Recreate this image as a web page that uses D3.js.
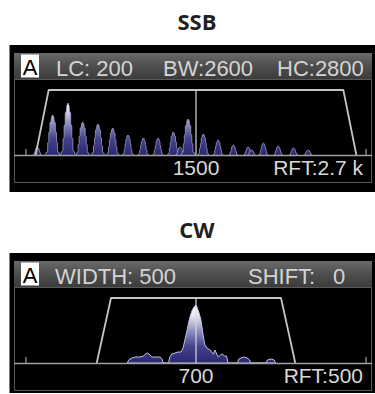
<!DOCTYPE html>
<html><head><meta charset="utf-8">
<script src="https://cdn.jsdelivr.net/npm/d3@7/dist/d3.min.js"></script>
<style>html,body{margin:0;padding:0;background:#fff;overflow:hidden}svg{display:block}</style>
</head><body>
<script>
// ---------- data ----------
const titles = ["SSB", "CW"];
const ssbHeader = ["LC: 200", "BW:2600", "HC:2800"];
const cwHeader = ["WIDTH: 500", "SHIFT:", "0"];
const ssbDomain = [0, 3000];
const cwDomain = [200, 1200];
const ssbFilter = [200, 2800];
const cwFilter = [450, 950];
const ssbSkirt = 115;
const cwSkirt = 42;
const ssbCenter = 1500;
const cwCenter = 700;
const ssbRft = "RFT:2.7 k";
const cwRft = "RFT:500";
// SSB voice harmonics: frequency (Hz) and level
const ssbPeakFreq  = [100, 235, 370, 500, 635, 765, 900, 1035, 1165, 1300, 1360, 1430, 1565, 1695, 1830, 1960, 1990, 2095, 2225, 2360, 2490];
const ssbPeakLevel = [8,   40,  52,  33,  31,  27,  20,  17,   17,   23,   8,    36,   21,   15,   10,   8,    5,    12,   9,    7,    5];
// CW spectrum samples: frequency (Hz) and level
const cwFreq  = [498,502,512,521,535,545,552,558,565,571,582,594,600,604,
                 619,623,629,638,647,656,662,668,674,678,683,688,694,700,704,709,714,718,721,726,732,741,748,751,756,762,766,772,777,784,790,794,
                 822,826,832,841,850,858,861,
                 906,910,921,930,934];
const cwLevel = [0,3,5,6,6,7,9,10,8,6,6,6,4,0,
                 0,6,9,10,11,11,15,24,33,40,47,52,56,58,55,50,44,35,28,18,15,13,10,9,13,8,6,8,9,7,7,0,
                 0,4,5,6,5,3,0,
                 0,3,4,3,0];

// ---------- layout ----------
const W = 375, H = 394;
const svg = d3.select("body").append("svg").attr("width", W).attr("height", H);
const defs = svg.append("defs");
const hg = defs.append("linearGradient").attr("id", "hdr").attr("x1", 0).attr("y1", 0).attr("x2", 0).attr("y2", 1);
hg.append("stop").attr("offset", 0).attr("stop-color", "#6a6a6a");
hg.append("stop").attr("offset", 0.5).attr("stop-color", "#4e4e4e");
hg.append("stop").attr("offset", 1).attr("stop-color", "#3c3c3c");
const sg = defs.append("linearGradient").attr("id", "spec").attr("gradientUnits", "userSpaceOnUse")
  .attr("x1", 0).attr("y1", 155).attr("x2", 0).attr("y2", 100);
[[0, "#2a2870"], [0.3, "#45438e"], [0.6, "#9494c4"], [0.85, "#e6e6f2"], [1, "#ffffff"]]
  .forEach(([o, c]) => sg.append("stop").attr("offset", o).attr("stop-color", c));

const fontUI = "'Liberation Sans', Arial, sans-serif";
const panelLeft = 14, panelRight = 372, headerTop = 53, headerBot = 79, base = 155, labelBot = 182;

const panels = [
  {title: titles[0], header: ssbHeader, hx: [56, 163, 277], domain: ssbDomain, filter: ssbFilter, skirt: ssbSkirt,
   center: ssbCenter, rft: ssbRft, type: "peaks", outerH: 147},
  {title: titles[1], header: cwHeader, hx: [55, 248, 333], domain: cwDomain, filter: cwFilter, skirt: cwSkirt,
   center: cwCenter, rft: cwRft, type: "area", outerH: 140}
];

// peak glyph profile (half-width px, fraction of height)
const glyph = [[-6.5,0],[-6,0.06],[-4.5,0.08],[-4.5,0.3],[-3.5,0.34],[-3.5,0.55],[-2.5,0.6],[-2.5,0.8],[-1.5,0.84],[-1,0.95],[0,1],
               [1,0.95],[1.5,0.84],[2.5,0.8],[2.5,0.6],[3.5,0.55],[3.5,0.34],[4.5,0.3],[4.5,0.08],[6,0.06],[6.5,0]];

panels.forEach((p, i) => {
  const g = svg.append("g").attr("transform", `translate(0,${i * 208})`);
  g.append("text").attr("x", 197).attr("y", 30).attr("text-anchor", "middle")
    .attr("font-family", "'Open Sans', sans-serif").attr("font-weight", 700).attr("font-size", 22)
    .attr("fill", "#231f20").text(p.title);

  g.append("rect").attr("x", 9.5).attr("y", 45).attr("width", W - 9.5).attr("height", p.outerH).attr("fill", "#000");
  g.append("rect").attr("x", panelLeft).attr("y", headerTop).attr("width", panelRight - panelLeft)
    .attr("height", headerBot - headerTop).attr("fill", "url(#hdr)");
  g.append("rect").attr("x", panelLeft + 0.5).attr("y", headerBot + 0.5).attr("width", panelRight - panelLeft - 1)
    .attr("height", labelBot - headerBot).attr("fill", "none").attr("stroke", "#5a5a5a").attr("stroke-width", 1);

  // "A" badge
  g.append("rect").attr("x", 21).attr("y", 54.5).attr("width", 18).attr("height", 23).attr("fill", "#fff");
  g.append("text").attr("x", 30).attr("y", 75).attr("text-anchor", "middle").attr("font-family", fontUI)
    .attr("font-size", 22).attr("fill", "#000").text("A");
  p.header.forEach((t, k) => g.append("text").attr("x", p.hx[k]).attr("y", 76).attr("font-family", fontUI)
    .attr("font-size", 22).attr("fill", "#d4d4d4").text(t));

  const x = d3.scaleLinear().domain(p.domain).range([26, 366]);
  const y = d3.scaleLinear().domain([0, 60]).range([base, base - 60]);

  // spectrum
  if (p.type === "peaks") {
    const peaks = ssbPeakFreq.map((f, k) => ({f, v: ssbPeakLevel[k]}));
    g.selectAll("path.pk").data(peaks).enter().append("path").attr("class", "pk")
      .attr("d", d => {
        const hpx = y(0) - y(d.v);
        const ws = Math.max(0.6, Math.min(1.1, 0.55 + d.v / 70));
        return d3.line()(glyph.map(([dx, fr]) => [x(d.f) + dx * ws, base - fr * hpx]));
      })
      .attr("fill", "url(#spec)").attr("stroke", "#aaaacc").attr("stroke-width", 0.7).attr("stroke-linejoin", "miter");
  } else {
    const pts = cwFreq.map((f, k) => ({f, v: cwLevel[k]}));
    g.append("path").datum(pts)
      .attr("d", d3.area().x(d => x(d.f)).y0(base).y1(d => y(d.v)))
      .attr("fill", "url(#spec)").attr("stroke", "#c0c0dc").attr("stroke-width", 1);
  }

  // filter passband trapezoid
  const trap = [[p.filter[0] - p.skirt, 0], [p.filter[0], 1], [p.filter[1], 1], [p.filter[1] + p.skirt, 0]];
  g.append("path").attr("d", d3.line()(trap.map(([f, u]) => [x(f), u ? 90 : base])))
    .attr("fill", "none").attr("stroke", "#c4c4c4").attr("stroke-width", 1.8).attr("stroke-linejoin", "round");
  // center line
  g.append("line").attr("x1", x(p.center)).attr("x2", x(p.center)).attr("y1", 90).attr("y2", base)
    .attr("stroke", "#d8d8d8").attr("stroke-width", 1.2);

  // baseline axis with end ticks
  g.append("line").attr("x1", panelLeft).attr("x2", panelRight).attr("y1", base + 0.5).attr("y2", base + 0.5)
    .attr("stroke", "#a0a0a0").attr("stroke-width", 1.5);
  g.selectAll("line.tk").data(p.domain).enter().append("line").attr("class", "tk")
    .attr("x1", d => x(d)).attr("x2", d => x(d)).attr("y1", base).attr("y2", base - 6)
    .attr("stroke", "#a0a0a0").attr("stroke-width", 1.2);

  // bottom labels
  g.append("text").attr("x", x(p.center)).attr("y", 175).attr("text-anchor", "middle").attr("font-family", fontUI)
    .attr("font-size", 21).attr("fill", "#d8d8d8").text(String(p.center));
  g.append("text").attr("x", 363).attr("y", 175).attr("text-anchor", "end").attr("font-family", fontUI)
    .attr("font-size", 21).attr("fill", "#d8d8d8").text(p.rft);
});
</script>
</body></html>
